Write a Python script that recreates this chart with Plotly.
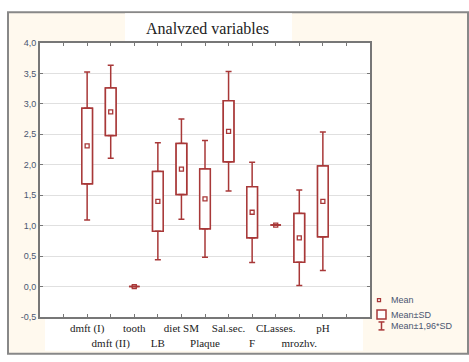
import numpy as np
import plotly.graph_objects as go

# ---- data ----
labels = ["dmft (I)", "dmft (II)", "tooth", "LB", "diet SM", "Plaque",
          "Sal.sec.", "F", "CLasses.", "mrozhv.", "pH"]
means = [2.31, 2.87, 0.00, 1.40, 1.93, 1.44, 2.55, 1.22, 1.01, 0.80, 1.40]
sds   = [0.62, 0.39, 0.00, 0.49, 0.42, 0.49, 0.50, 0.42, 0.00, 0.40, 0.58]
y_ticks = [-0.5, 0.0, 0.5, 1.0, 1.5, 2.0, 2.5, 3.0, 3.5, 4.0]
title_text = "Analvzed variables"
legend_labels = ["Mean", "Mean±SD", "Mean±1,96*SD"]

RED = "#A83838"
m = np.array(means)
s = np.array(sds)
x = np.arange(1, len(labels) + 1)

fig = go.Figure()
# box: mean ± SD, with upper whisker to mean + 1.96 SD
fig.add_trace(go.Bar(
    x=x, base=m - s, y=2 * s, width=0.45,
    marker=dict(color="white", line=dict(color=RED, width=1.5)),
    error_y=dict(type="data", symmetric=False, array=0.96 * s, arrayminus=np.zeros_like(s),
                 color=RED, thickness=1.5, width=3),
    showlegend=False, hoverinfo="skip"))
# same box drawn downward, carrying the lower whisker to mean - 1.96 SD
fig.add_trace(go.Bar(
    x=x, base=m + s, y=-2 * s, width=0.45,
    marker=dict(color="white", line=dict(color=RED, width=1.5)),
    error_y=dict(type="data", symmetric=False, array=np.zeros_like(s), arrayminus=0.96 * s,
                 color=RED, thickness=1.5, width=3),
    showlegend=False, hoverinfo="skip"))
# mean markers
fig.add_trace(go.Scatter(
    x=x, y=m, mode="markers",
    marker=dict(symbol="square-open", size=4, color=RED, line=dict(color=RED, width=1.3)),
    showlegend=False))

# staggered category labels
ticktext = [""] + [lab if i % 2 == 0 else " <br>" + lab for i, lab in enumerate(labels)] + [""]
tickvals = list(range(0, len(labels) + 2))

L, R, T, B = 40, 99, 43, 43
W, H = 469, 362
pw, ph = W - L - R, H - T - B

def px(xp):
    return (xp - L) / pw

def py(yp):
    return (H - B - yp) / ph

shapes = [
    # outer cream frame
    dict(type="rect", xref="paper", yref="paper", x0=px(8), x1=px(468), y0=py(356), y1=py(12),
         fillcolor="#FFF9EE", line=dict(color="#888888", width=2), layer="below"),
    # white plot area
    dict(type="rect", xref="paper", yref="paper", x0=0, x1=1, y0=0, y1=1,
         fillcolor="white", line=dict(width=0), layer="below"),
    # white label strip
    dict(type="rect", xref="paper", yref="paper", x0=px(45), x1=px(363), y0=py(353), y1=0,
         fillcolor="white", line=dict(width=0), layer="below"),
    # white title box
    dict(type="rect", xref="paper", yref="paper", x0=px(125), x1=px(292), y0=py(42), y1=py(13),
         fillcolor="white", line=dict(width=0), layer="below"),
    # legend: mean marker
    dict(type="rect", xref="paper", yref="paper", x0=px(377.5), x1=px(380.5), y0=py(303.5), y1=py(300.5),
         fillcolor="white", line=dict(color=RED, width=1.3)),
    # legend: box
    dict(type="rect", xref="paper", yref="paper", x0=px(377), x1=px(386), y0=py(321), y1=py(312),
         fillcolor="white", line=dict(color=RED, width=1.5)),
    # legend: whisker I-beam
    dict(type="line", xref="paper", yref="paper", x0=px(381.5), x1=px(381.5), y0=py(332), y1=py(324),
         line=dict(color=RED, width=1.5)),
    dict(type="line", xref="paper", yref="paper", x0=px(378.5), x1=px(384.5), y0=py(324), y1=py(324),
         line=dict(color=RED, width=1.5)),
    dict(type="line", xref="paper", yref="paper", x0=px(378.5), x1=px(384.5), y0=py(332), y1=py(332),
         line=dict(color=RED, width=1.5)),
]

annotations = [
    dict(xref="paper", yref="paper", x=px(207), y=py(28), text=title_text,
         showarrow=False, xanchor="center", yanchor="middle",
         font=dict(family="Liberation Serif, Times New Roman", size=16, color="#222222")),
]
for lab, yp in zip(legend_labels, [302, 316.5, 328]):
    annotations.append(dict(xref="paper", yref="paper", x=px(389), y=py(yp), text=lab,
                            showarrow=False, xanchor="left", yanchor="middle",
                            font=dict(family="Arial, Liberation Sans", size=9, color="#4a5570")))

fig.update_layout(
    width=W, height=H,
    margin=dict(l=L, r=R, t=T, b=B),
    paper_bgcolor="white", plot_bgcolor="white",
    barmode="overlay",
    shapes=shapes, annotations=annotations,
    showlegend=False,
)
fig.update_xaxes(range=[-1, len(labels) + 2], tickmode="array", tickvals=tickvals, ticktext=ticktext,
                 tickangle=0,
                 showgrid=False, zeroline=False, showline=True, linecolor="#777777", linewidth=2,
                 mirror="allticks", ticks="inside", ticklen=3, tickcolor="#777777",
                 tickfont=dict(family="Liberation Serif, Times New Roman", size=11, color="#222222"))
fig.update_yaxes(range=[-0.5, 4.0], tickmode="array", tickvals=y_ticks,
                 ticktext=[f"{v:.1f}".replace(".", ",") for v in y_ticks],
                 showgrid=True, gridcolor="#e0e0e0", gridwidth=1, zeroline=False,
                 showline=True, linecolor="#777777", linewidth=2, mirror="allticks",
                 ticks="inside", ticklen=3, tickcolor="#777777",
                 tickfont=dict(family="Arial, Liberation Sans", size=9, color="#4a5570"))

fig.write_html("out.html", config={"displayModeBar": False},
               post_script="document.body.style.margin='0';")
